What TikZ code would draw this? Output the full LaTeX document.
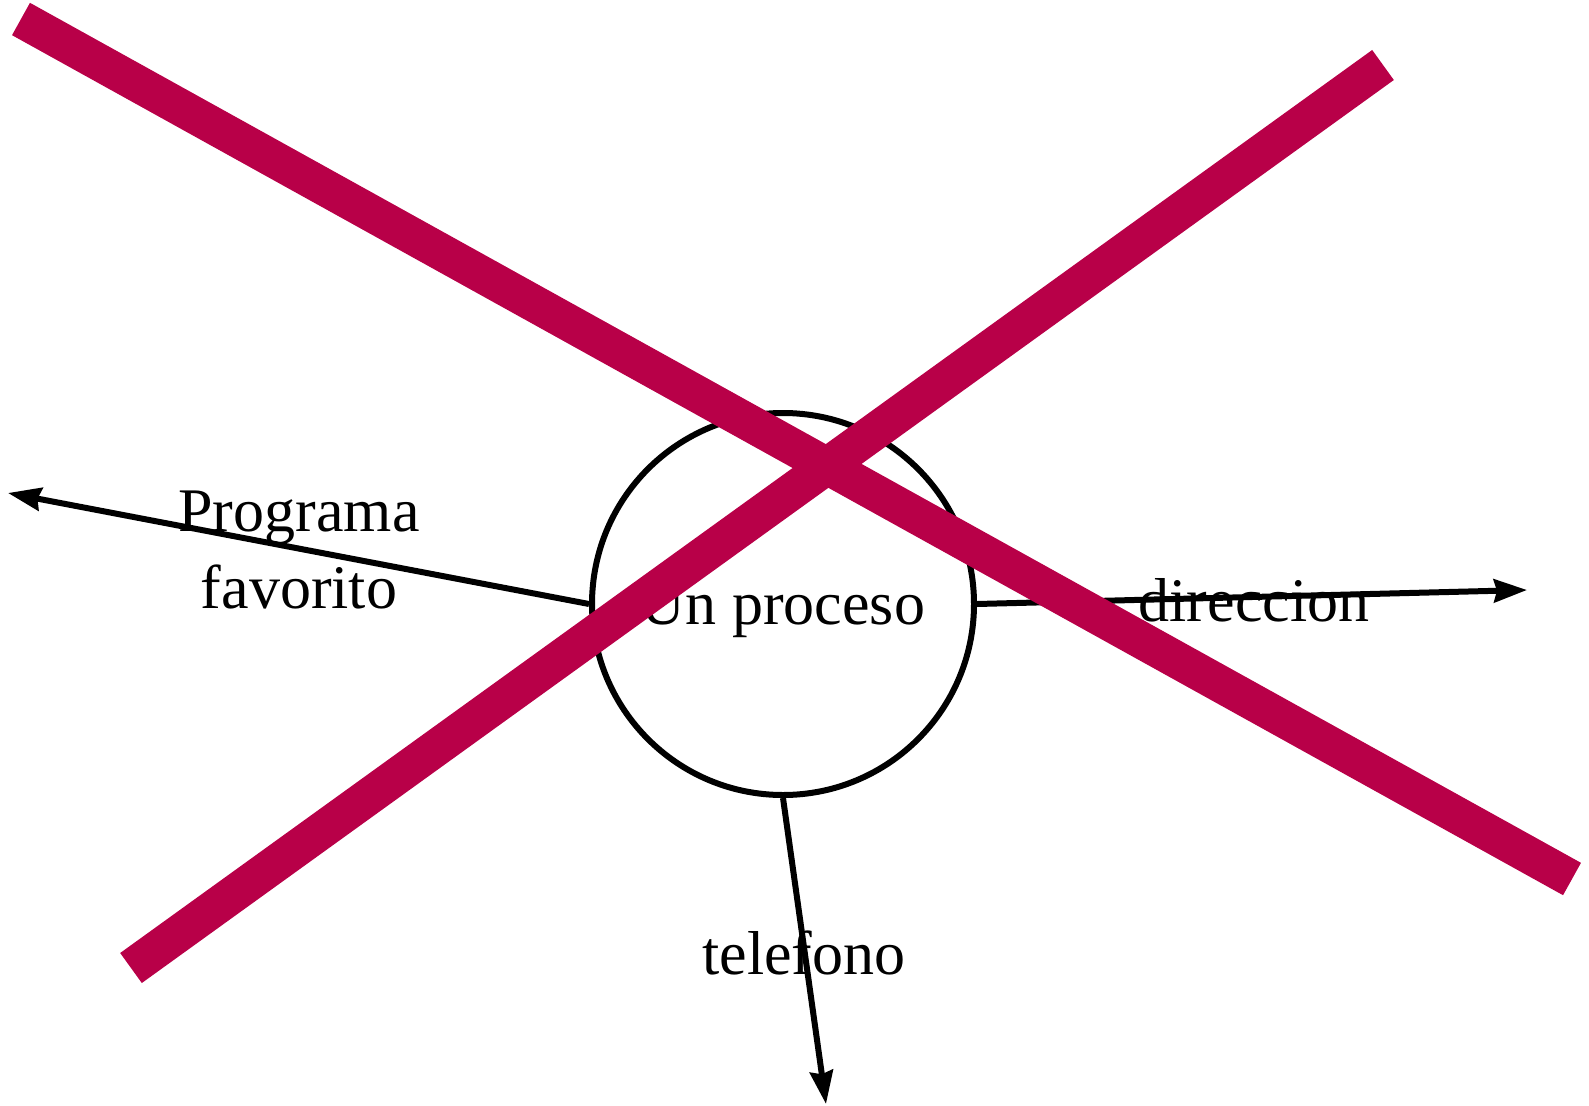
\documentclass[tikz,border=0pt]{standalone}
\usepackage{fontspec}
\setmainfont{Liberation Serif}
\usepackage{xcolor}
\usetikzlibrary{arrows.meta}

\definecolor{crossred}{RGB}{184,0,72}

\begin{document}
\begin{tikzpicture}[x=1pt,y=-1pt]
\tikzset{>={Stealth[length=33pt,width=23pt,inset=3pt]}}

\tikzstyle{proc}  = [circle, draw, line width=6pt, minimum size=382pt,
                     inner sep=0pt, text depth=0pt,
                     font=\fontsize{62}{77}\selectfont]
\tikzstyle{label} = [font=\fontsize{62}{77}\selectfont, align=center]
\tikzstyle{flow}  = [->, line width=6pt]
\tikzstyle{cross} = [line width=37pt, crossred]

\useasboundingbox (0,0) rectangle (1589,1105);

\node[proc] (P) at (783,604) {Un proceso};

\coordinate (PF) at (8,493);
\coordinate (DI) at (1527,590);
\coordinate (TE) at (826,1104);

\draw[flow] (P.west)  -- (PF);
\draw[flow] (P.east)  -- (DI);
\draw[flow] (P.south) -- (TE);

\node[label] (LPF) at (299,550) {Programa\\favorito};
\node[label] (LDI) at (1254,600) {direccion};
\node[label] (LTE) at (804,953) {telefono};

% the big cross over everything
\coordinate (C1a) at (21,19);
\coordinate (C1b) at (1572,879);
\coordinate (C2a) at (131,968);
\coordinate (C2b) at (1383,65);
\draw[cross] (C1a) -- (C1b);
\draw[cross] (C2a) -- (C2b);

\end{tikzpicture}
\end{document}
